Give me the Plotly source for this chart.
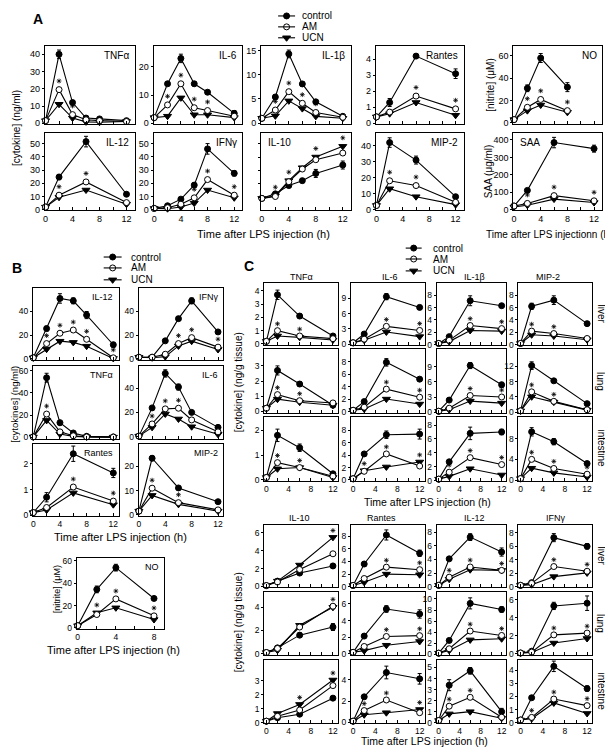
import plotly.graph_objects as go

W, H = 613, 753
OX, OY = 8, 8  # page body margin compensation
FONT = "Liberation Sans, Arial, Helvetica, sans-serif"

# ---------------- time points ----------------
T6 = [0, 2, 4, 6, 8, 12]
T4 = [0, 2, 6, 12]
TNO = [0, 2, 4, 8]

# ---------------- Panel A (serum) ----------------
a_tnf = dict(control=[1.5, 40, 12, 3, 2.5, 1.5], AM=[1.5, 19.5, 5, 2, 1.5, 1], UCN=[1.5, 11, 3, 0.8, 0.6, 1],
             err=[0.3, 2.5, 1, 0.5, 0.3, 0.3], stars=[2, 4])
a_il6 = dict(control=[2, 14, 23, 14, 11, 3.5], AM=[2, 6.5, 14, 5.5, 4.5, 2.5], UCN=[2, 2.5, 9, 3, 3, 2],
             err=[0.2, 0.7, 1.5, 0.7, 0.7, 1], stars=[2, 4, 6, 8])
a_il1b = dict(control=[1, 5.4, 14.3, 8.1, 4.4, 1.4], AM=[1, 2.7, 6.5, 4.1, 2.2, 1.2], UCN=[1, 1.5, 4.6, 3, 1.4, 1],
              err=[0.1, 0.4, 0.8, 0.4, 0.3, 0.2], stars=[2, 4, 6, 8])
a_rantes = dict(control=[0.4, 1.3, 4.2, 3.1], AM=[0.4, 0.7, 1.7, 0.9], UCN=[0.4, 0.6, 1.3, 0.5],
                err=[0.05, 0.25, 0.12, 0.3], stars=[6, 12])
a_no = dict(control=[3, 31, 58, 32], AM=[3, 14, 21, 11], UCN=[3, 11, 16, 9.5],
            err=[0.5, 3, 4, 4], stars=[2, 4, 8])
a_il12 = dict(control=[2, 24.7, 51.5, 11.7], AM=[2, 11, 21, 5.4], UCN=[2, 9.4, 14.9, 4.2],
              err=[0.3, 2, 4, 1], stars=[2, 6, 12])
a_ifng = dict(control=[1, 3, 8, 18.6, 46, 27.5], AM=[1, 1.5, 4.2, 9, 22.8, 11], UCN=[1, 0.8, 2, 5, 14.9, 9],
              err=[0.2, 0.5, 1, 1.5, 4, 2], stars=[6, 8, 12])
a_il10 = dict(control=[9, 12.4, 18.6, 22.3, 27.7, 34], AM=[9, 10.4, 21.5, 31, 38, 43], UCN=[9, 11, 22.3, 32, 40, 48],
              err=[0.5, 1, 1.5, 1.5, 3, 3], stars=[2, 4, 8, 12])
a_mip2 = dict(control=[2.5, 42, 31, 8], AM=[2.5, 18, 15, 4.5], UCN=[2.5, 13, 8, 3],
              err=[0.3, 3, 2.5, 1], stars=[2, 6])
a_saa = dict(control=[20, 110, 385, 350], AM=[20, 35, 80, 50], UCN=[15, 25, 60, 40],
             err=[3, 8, 30, 20], stars=[2, 6, 12])

# ---------------- Panel B ----------------
b_il12 = dict(control=[1, 25.6, 51, 49, 37, 12], AM=[1, 13, 21.7, 24.4, 16.6, 1], UCN=[1, 8.3, 15, 14, 10.8, 0.5],
              err=[0.3, 2, 4, 2.5, 3, 2], stars=[2, 4, 6, 8, 12])
b_ifng = dict(control=[1.5, 1.5, 15.3, 34, 49, 22.8], AM=[1.5, 1.5, 4, 13, 18, 10], UCN=[1.5, 1, 2, 11, 15, 8],
              err=[0.2, 0.3, 1, 1.5, 2.5, 1.5], stars=[6, 8, 12])
b_tnf = dict(control=[0.5, 53.6, 13.3, 4, 1, 0.5], AM=[0.5, 21, 5, 1.5, 0.5, 0.3], UCN=[0.5, 15.3, 3, 1, 0.5, 0.3],
             err=[0.1, 4, 1, 1, 0.5, 0.3], stars=[2, 4])
b_il6 = dict(control=[0.5, 23.7, 52, 40.8, 20, 7.7], AM=[0.5, 10.5, 22.9, 23.4, 13.8, 4], UCN=[0.5, 7.7, 18.7, 14.6, 8.2, 2],
             err=[0.1, 1, 3, 2.5, 1, 1], stars=[2, 4, 6, 8])
b_rantes = dict(control=[0.1, 0.7, 2.4, 1.65], AM=[0.1, 0.3, 1.1, 0.55], UCN=[0.1, 0.2, 0.87, 0.41],
                err=[0.02, 0.18, 0.3, 0.18], stars=[6, 12])
b_mip2 = dict(control=[1.5, 23.4, 11.1, 5.4], AM=[1.5, 11, 5, 2], UCN=[1.5, 8, 4.3, 1.5],
              err=[0.2, 1, 0.5, 0.4], stars=[2, 6, 12])
b_no = dict(control=[2, 34.5, 54, 26.4], AM=[2, 12, 26, 10.8], UCN=[2, 13.5, 18, 7.5],
            err=[0.3, 3, 3, 1], stars=[2, 4, 8])

# ---------------- Panel C, upper block ----------------
c_tnf_liver = dict(control=[0.2, 3.7, 2.1, 0.6], AM=[0.2, 1.0, 0.6, 0.4], UCN=[0.2, 0.6, 0.5, 0.3], err=[0.05, 0.35, 0.15, 0.1], stars=[2, 6])
c_tnf_lung = dict(control=[0.2, 2.7, 1.8, 0.4], AM=[0.2, 1.1, 0.7, 0.55], UCN=[0.2, 0.8, 0.6, 0.4], err=[0.05, 0.3, 0.15, 0.1], stars=[2, 6])
c_tnf_int = dict(control=[0.1, 1.8, 1.3, 0.25], AM=[0.1, 0.7, 0.5, 0.15], UCN=[0.1, 0.45, 0.5, 0.1], err=[0.02, 0.25, 0.15, 0.05], stars=[2, 6])
c_il6_liver = dict(control=[0.3, 2, 9.3, 7.2], AM=[0.3, 1, 3.5, 2.7], UCN=[0.3, 0.8, 2.4, 1.5], err=[0.1, 0.3, 0.6, 0.4], stars=[6, 12])
c_il6_lung = dict(control=[0.2, 1.6, 7.9, 5.2], AM=[0.2, 0.7, 3.6, 2.3], UCN=[0.2, 0.4, 2, 1.2], err=[0.05, 0.2, 0.6, 0.3], stars=[6, 12])
c_il6_int = dict(control=[0.2, 4.2, 7.3, 7.4], AM=[0.2, 1.4, 4.2, 2.25], UCN=[0.2, 1.5, 2.1, 2.9], err=[0.05, 0.3, 0.6, 0.8], stars=[2, 6, 12])
c_il1b_liver = dict(control=[0.2, 1.3, 7.1, 6.3], AM=[0.2, 0.7, 3.1, 2.6], UCN=[0.2, 0.5, 2.3, 2.2], err=[0.05, 0.2, 0.8, 0.3], stars=[6, 12])
c_il1b_lung = dict(control=[0.2, 2.4, 9.2, 5.4], AM=[0.2, 0.8, 3.3, 3.0], UCN=[0.2, 0.5, 2.2, 1.8], err=[0.05, 0.2, 0.6, 0.5], stars=[6, 12])
c_il1b_int = dict(control=[0.2, 2.7, 6.8, 7.0], AM=[0.2, 1.2, 3.3, 2.3], UCN=[0.2, 0.6, 1.7, 0.8], err=[0.05, 0.2, 0.9, 0.4], stars=[2, 6, 12])
c_mip2_liver = dict(control=[0.2, 6.2, 7.2, 3.4], AM=[0.2, 2.2, 1.8, 1.0], UCN=[0.2, 1.6, 1.4, 0.8], err=[0.05, 0.5, 0.7, 0.3], stars=[2, 6])
c_mip2_lung = dict(control=[0.3, 12.2, 8.2, 2.2], AM=[0.3, 5.3, 2.8, 0.6], UCN=[0.3, 4.0, 2.6, 0.5], err=[0.1, 1.0, 0.4, 0.3], stars=[2, 6])
c_mip2_int = dict(control=[0.3, 9.3, 7.4, 3.2], AM=[0.3, 4.0, 2.25, 1.15], UCN=[0.3, 2.3, 1.4, 0.6], err=[0.1, 0.8, 0.6, 0.3], stars=[2, 6, 12])

# ---------------- Panel C, lower block ----------------
c_il10_liver = dict(control=[0.1, 0.6, 1.5, 2.3], AM=[0.1, 0.5, 1.9, 3.66], UCN=[0.1, 0.6, 2.4, 5.5], err=[0.02, 0.1, 0.2, 0.25], stars=[12])
c_il10_lung = dict(control=[0.1, 0.5, 1.6, 2.3], AM=[0.1, 0.45, 2.3, 4.1], UCN=[0.1, 0.3, 2.45, 4.0], err=[0.02, 0.1, 0.2, 0.3], stars=[12])
c_il10_int = dict(control=[0.1, 0.35, 0.6, 1.75], AM=[0.1, 0.45, 0.9, 2.65], UCN=[0.1, 0.65, 1.3, 3.05], err=[0.02, 0.1, 0.1, 0.15], stars=[6, 12])
c_rantes_liver = dict(control=[0.2, 3.6, 8.2, 5.3], AM=[0.2, 1.3, 3.1, 2.7], UCN=[0.2, 0.7, 2.0, 1.9], err=[0.05, 0.4, 0.8, 0.5], stars=[6, 12])
c_rantes_lung = dict(control=[0.2, 2.15, 5.4, 4.8], AM=[0.2, 0.9, 2.1, 2.2], UCN=[0.2, 0.4, 1.05, 1.5], err=[0.05, 0.2, 0.4, 0.5], stars=[6, 12])
c_rantes_int = dict(control=[0.1, 2.4, 4.7, 4.1], AM=[0.1, 1.1, 2.1, 0.9], UCN=[0.1, 0.7, 0.9, 1.2], err=[0.02, 0.2, 0.6, 0.5], stars=[2, 6, 12])
c_il12_liver = dict(control=[0.2, 4.1, 7.3, 5.1], AM=[0.2, 1.4, 2.9, 2.4], UCN=[0.2, 1.1, 2.5, 2.4], err=[0.05, 0.2, 0.5, 0.6], stars=[2, 6, 12])
c_il12_lung = dict(control=[0.2, 2.5, 9.2, 8.1], AM=[0.2, 1.0, 4.2, 3.4], UCN=[0.2, 0.7, 2.6, 2.8], err=[0.05, 0.3, 1.0, 0.5], stars=[6, 12])
c_il12_int = dict(control=[0.2, 3.4, 4.7, 1.0], AM=[0.2, 1.5, 2.3, 0.5], UCN=[0.2, 0.8, 1.0, 0.4], err=[0.05, 0.5, 0.3, 0.3], stars=[2, 6])
c_ifng_liver = dict(control=[0.2, 0.6, 7.3, 6.0], AM=[0.2, 0.5, 3.0, 2.3], UCN=[0.2, 0.3, 1.5, 2.05], err=[0.05, 0.1, 0.6, 0.4], stars=[6, 12])
c_ifng_lung = dict(control=[0.1, 0.3, 5.3, 5.6], AM=[0.1, 0.2, 2.1, 2.3], UCN=[0.1, 0.15, 1.2, 1.7], err=[0.02, 0.1, 0.4, 0.8], stars=[6, 12])
c_ifng_int = dict(control=[0.2, 1.9, 4.3, 2.6], AM=[0.2, 0.4, 1.8, 1.3], UCN=[0.2, 0.3, 1.5, 0.7], err=[0.05, 0.1, 0.4, 0.2], stars=[2, 6, 12])

# ---------------- figure helpers ----------------
fig = go.Figure()
n_ax = [0]

XT = [0, 2, 4, 6, 8, 10, 12]
XTT = ["0", "", "4", "", "8", "", "12"]
XT_NO = [0, 2, 4, 6, 8]
XTT_NO = ["0", "", "4", "", "8"]
XR_A = [-0.1, 13.2]
XR_B = [-0.05, 12.8]
XR_C = [-0.4, 12.9]
XR_NO = [-0.1, 9.1]


def panel(d, times, box, yr, yt, xr, xlab=False, name=None, npos="r", fs=9, nfs=10, ylab=True,
          xt=XT, xtt=XTT):
    n_ax[0] += 1
    n = n_ax[0]
    sx = "" if n == 1 else str(n)
    x0, x1, y0, y1 = box
    base = dict(showline=True, mirror=True, linecolor="black", linewidth=1, showgrid=False,
                zeroline=False, tickcolor="black", tickwidth=1, ticklen=3,
                tickfont=dict(size=fs, family=FONT, color="black"), fixedrange=True)
    fig.update_layout({
        "xaxis" + sx: dict(base, domain=[(x0 - OX) / W, (x1 - OX) / W], anchor="y" + sx, range=xr,
                           tickmode="array", tickvals=xt, ticktext=xtt, ticks="inside",
                           showticklabels=xlab),
        "yaxis" + sx: dict(base, domain=[1 - (y1 - OY) / H, 1 - (y0 - OY) / H], anchor="x" + sx, range=yr,
                           tickmode="array", tickvals=yt, ticks="outside", ticklen=2,
                           showticklabels=ylab),
    })
    for key, sym, fill, size in (("control", "circle", "black", 6),
                                 ("UCN", "triangle-down", "black", 7),
                                 ("AM", "circle", "white", 6)):
        ey = None
        if key == "control":
            ey = dict(type="data", array=d["err"], color="black", thickness=1, width=2, visible=True)
        fig.add_trace(go.Scatter(
            x=times, y=d[key], xaxis="x" + sx, yaxis="y" + sx, mode="lines+markers",
            line=dict(color="black", width=1.1),
            marker=dict(symbol=sym, size=size, color=fill, line=dict(color="black", width=1)),
            error_y=ey, cliponaxis=False, showlegend=False, hoverinfo="skip"))
    st = d.get("stars", [])
    if st:
        lift = 0.11 * (yr[1] - yr[0])
        ys = [max(d["AM"][times.index(t)], d["UCN"][times.index(t)]) + lift for t in st]
        fig.add_trace(go.Scatter(
            x=st, y=ys, xaxis="x" + sx, yaxis="y" + sx, mode="markers",
            marker=dict(symbol="asterisk-open", size=4, color="black", line=dict(color="black", width=0.8)),
            cliponaxis=False, showlegend=False, hoverinfo="skip"))
    if name:
        fig.add_annotation(text=name, xref="x" + sx + " domain", yref="y" + sx + " domain",
                           x=0.96 if npos == "r" else 0.05, y=0.97,
                           xanchor="right" if npos == "r" else "left", yanchor="top",
                           showarrow=False, font=dict(size=nfs, family=FONT, color="black"))


# ---------------- Panel A ----------------
AC = [(43, 133), (152, 241), (260, 350), (375, 463), (513, 602)]
AR = [(44, 123), (132, 210)]
def abox(c, r):
    return (AC[c][0], AC[c][1], AR[r][0], AR[r][1])

panel(a_tnf, T6, abox(0, 0), [-0.5, 45], [0, 10, 20, 30, 40], XR_A, name="TNFα")
panel(a_il6, T6, abox(1, 0), [-0.3, 27.5], [0, 10, 20], XR_A, name="IL-6")
panel(a_il1b, T6, abox(2, 0), [-0.2, 16], [0, 5, 10, 15], XR_A, name="IL-1β")
panel(a_rantes, T4, abox(3, 0), [-0.05, 4.85], [0, 1, 2, 3, 4], XR_A, name="Rantes")
panel(a_no, TNO, abox(4, 0), [-1, 69], [0, 20, 40, 60], XR_A, name="NO")
panel(a_il12, T4, abox(0, 1), [-0.5, 58], [0, 10, 20, 30, 40, 50], XR_A, xlab=True, name="IL-12")
panel(a_ifng, T6, abox(1, 1), [-0.5, 58], [0, 10, 20, 30, 40, 50], XR_A, xlab=True, name="IFNγ")
panel(a_il10, T6, abox(2, 1), [0, 58], [10, 20, 30, 40, 50], XR_A, xlab=True, name="IL-10", npos="l", ylab=False)
panel(a_mip2, T4, abox(3, 1), [-0.6, 48], [0, 10, 20, 30, 40], XR_A, xlab=True, name="MIP-2")
panel(a_saa, T4, abox(4, 1), [-5, 440], [0, 100, 200, 300, 400], XR_A, xlab=True, name="SAA", npos="l")

# ---------------- Panel B ----------------
BC = [(31, 117), (137, 222)]
BR = [(288, 361), (367, 440), (445, 518)]
def bbox(c, r):
    return (BC[c][0], BC[c][1], BR[r][0], BR[r][1])

panel(b_il12, T6, bbox(0, 0), [-1, 60], [0, 20, 40], XR_B, name="IL-12", nfs=9, fs=8.5)
panel(b_ifng, T6, bbox(1, 0), [-1, 60], [0, 20, 40], XR_B, name="IFNγ", nfs=9, fs=8.5)
panel(b_tnf, T6, bbox(0, 1), [-1, 64], [0, 20, 40, 60], XR_B, name="TNFα", nfs=9, fs=8.5)
panel(b_il6, T6, bbox(1, 1), [-1.5, 58], [0, 20, 40], XR_B, name="IL-6", nfs=9, fs=8.5)
panel(b_rantes, T4, bbox(0, 2), [-0.03, 2.8], [0, 1, 2], XR_B, xlab=True, name="Rantes", nfs=9, fs=8.5)
panel(b_mip2, T4, bbox(1, 2), [-0.5, 29.5], [0, 10, 20], XR_B, xlab=True, name="MIP-2", nfs=9, fs=8.5)
panel(b_no, TNO, (75, 163, 560, 632), [-1, 63], [0, 20, 40, 60], XR_NO, xlab=True, name="NO", nfs=9,
      fs=8.5, xt=XT_NO, xtt=XTT_NO)

# ---------------- Panel C ----------------
CC = [(263, 337), (350, 424), (436, 506), (518, 592)]
CRU = [(283, 346), (350, 414), (418, 483)]
CRL = [(527, 590), (595, 658), (663, 727)]
def cbox(c, rows, r):
    return (CC[c][0], CC[c][1], rows[r][0], rows[r][1])

upper = [
    [(c_tnf_liver, [-0.1, 4.6], [0, 1, 2, 3, 4]), (c_tnf_lung, [-0.1, 4.1], [0, 1, 2, 3]), (c_tnf_int, [-0.05, 2.55], [0, 1, 2])],
    [(c_il6_liver, [-0.2, 12], [0, 3, 6, 9]), (c_il6_lung, [-0.2, 10], [0, 2, 4, 6, 8]), (c_il6_int, [-0.2, 10.2], [0, 2, 4, 6, 8])],
    [(c_il1b_liver, [-0.1, 10], [0, 2, 4, 6, 8]), (c_il1b_lung, [-0.1, 12.4], [0, 3, 6, 9]), (c_il1b_int, [-0.1, 9.2], [0, 2, 4, 6, 8])],
    [(c_mip2_liver, [-0.1, 10], [0, 2, 4, 6, 8]), (c_mip2_lung, [-0.2, 16.5], [0, 4, 8, 12]), (c_mip2_int, [-0.2, 12.2], [0, 4, 8])],
]
lower = [
    [(c_il10_liver, [-0.1, 6.9], [0, 2, 4, 6]), (c_il10_lung, [-0.1, 5.3], [0, 2, 4]), (c_il10_int, [-0.05, 4.5], [0, 1, 2, 3])],
    [(c_rantes_liver, [-0.1, 9.8], [0, 2, 4, 6, 8]), (c_rantes_lung, [-0.1, 7.4], [0, 2, 4, 6]), (c_rantes_int, [-0.1, 5.9], [0, 2, 4])],
    [(c_il12_liver, [-0.1, 9.1], [0, 2, 4, 6, 8]), (c_il12_lung, [-0.1, 11.2], [0, 2, 4, 6, 8, 10]), (c_il12_int, [-0.05, 5.7], [0, 1, 2, 3, 4, 5])],
    [(c_ifng_liver, [-0.1, 9.2], [0, 2, 4, 6, 8]), (c_ifng_lung, [-0.1, 6.8], [0, 2, 4, 6]), (c_ifng_int, [-0.05, 4.8], [0, 1, 2, 3, 4])],
]
for block, rows in ((upper, CRU), (lower, CRL)):
    for c, col in enumerate(block):
        for r, (d, yr, yt) in enumerate(col):
            panel(d, T4, cbox(c, rows, r), yr, yt, XR_C, xlab=(r == 2), fs=8.5)

# ---------------- overlay (reference pixel coordinates) for free text / legends ----------------
n_ax[0] += 1
ov = str(n_ax[0])
fig.update_layout({
    "xaxis" + ov: dict(domain=[0, 1], range=[OX, W + OX], visible=False, fixedrange=True, anchor="y" + ov),
    "yaxis" + ov: dict(domain=[0, 1], range=[H + OY, OY], visible=False, fixedrange=True, anchor="x" + ov),
})

def txt(s, x, y, size=10, angle=0, bold=False, xanchor="center"):
    fig.add_annotation(text=("<b>%s</b>" % s) if bold else s, x=x, y=y, xref="x" + ov, yref="y" + ov,
                       showarrow=False, textangle=angle, xanchor=xanchor, yanchor="middle",
                       font=dict(size=size, family=FONT, color="black"))

legend_labels = ["control", "AM", "UCN"]
legend_syms = [("circle", "black", 6), ("circle", "white", 6), ("triangle-down", "black", 7)]
for lx0, lx1, tx, ys in ((277, 294, 299, [14, 25, 36]), (102, 120, 127, [257, 268, 280]),
                         (405, 421, 430, [248, 259, 271])):
    for lab, (sym, fill, size), yy in zip(legend_labels, legend_syms, ys):
        fig.add_shape(type="line", xref="x" + ov, yref="y" + ov, x0=lx0, x1=lx1, y0=yy, y1=yy,
                      line=dict(color="black", width=1.1))
        fig.add_trace(go.Scatter(x=[(lx0 + lx1) / 2], y=[yy], xaxis="x" + ov, yaxis="y" + ov,
                                 mode="markers", marker=dict(symbol=sym, size=size, color=fill,
                                                             line=dict(color="black", width=1)),
                                 showlegend=False, hoverinfo="skip", cliponaxis=False))
        txt(lab, tx, yy, size=10, xanchor="left")

# panel letters
txt("A", 36, 17, size=14, bold=True)
txt("B", 15, 268, size=14, bold=True)
txt("C", 248, 266, size=14, bold=True)

# Panel A titles
txt("[cytokine] (ng/ml)", 14, 127, size=10, angle=-90)
txt("[nitrite] (μM)", 490, 83, size=10, angle=-90)
txt("SAA (μg/ml)", 488, 170, size=10, angle=-90)
txt("Time after LPS injection (h)", 262, 234, size=11)
txt("Time after LPS injectionn (h)", 549, 234, size=10)

# Panel B titles
txt("[cytokines] (ng/ml)", 13, 405, size=9.5, angle=-90)
txt("Time after LPS injection (h)", 119, 539, size=11)
txt("[nitrite] (μM)", 55, 592, size=9, angle=-90)
txt("Time after LPS injection (h)", 112, 653, size=11)

# Panel C titles
for s, x in (("TNFα", 300), ("IL-6", 389), ("IL-1β", 474), ("MIP-2", 548)):
    txt(s, x, 277, size=9)
for s, x in (("IL-10", 298), ("Rantes", 381), ("IL-12", 474), ("IFNγ", 555)):
    txt(s, x, 520, size=9)
txt("[cytokine] (ng/g tissue)", 237, 383, size=10, angle=-90)
txt("[cytokine] (ng/g tissue)", 237, 625, size=10, angle=-90)
txt("Time after LPS injection (h)", 427, 504, size=10.5)
txt("Time after LPS injection (h)", 424, 745, size=10.5)
for s, y in (("liver", 314), ("lung", 382), ("intestine", 450), ("liver", 558), ("lung", 626), ("intestine", 695)):
    txt(s, 601, y, size=10, angle=90)

fig.update_layout(width=W, height=H, margin=dict(l=0, r=0, t=0, b=0),
                  paper_bgcolor="white", plot_bgcolor="rgba(0,0,0,0)", showlegend=False,
                  font=dict(family=FONT, color="black"))

fig.write_html("out.html")
